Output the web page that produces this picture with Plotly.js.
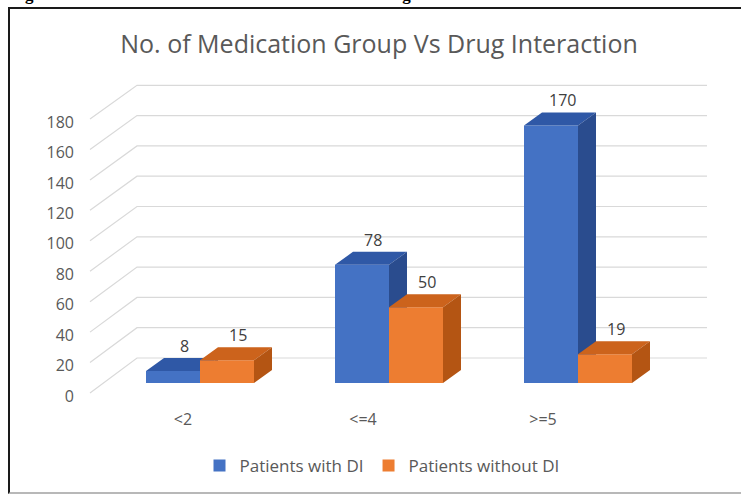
<!DOCTYPE html>
<html>
<head>
<meta charset="utf-8">
<script src="https://cdn.plot.ly/plotly-3.0.1.min.js"></script>
<style>
  html, body { margin: 0; padding: 0; background: #ffffff; }
  #wrap { position: relative; width: 741px; height: 495px; overflow: hidden; background: #ffffff; }
  #chart { position: absolute; left: 0; top: 0; width: 741px; height: 495px; }
  #frame { position: absolute; left: 8px; top: 7px; right: -4px; bottom: 1px;
           border-left: 2px solid #1a1a1a; border-top: 2px solid #1a1a1a; border-bottom: 2px solid #b8b8b8;
           pointer-events: none; }
  #caption { position: absolute; left: 10px; top: -14px; white-space: nowrap;
             font: bold 17px "Liberation Serif", "DejaVu Serif", serif; color: #000; line-height: 17px; }
</style>
</head>
<body>
<div id="wrap">
  <div id="chart"></div>
  <div id="frame"></div>
  <div id="caption">Figure 1: Distribution of number of medication vs drug interaction</div>
</div>
<script>
// ---- data ----
const categories = ['<2', '<=4', '>=5'];
const seriesNames = ['Patients with DI', 'Patients without DI'];
const withDI = [8, 78, 170];
const withoutDI = [15, 50, 19];
const yTickVals = [0, 20, 40, 60, 80, 100, 120, 140, 160, 180];

// ---- geometry of the pseudo-3D box (pixels) ----
const W = 741, H = 495;
const PL = 85, PR = 715, PT = 75, PB = 405;          // plot area
const X0 = 200, XS = 189;                             // bar plane: px of category 0, px per category
const Y0 = 383, YS = 1.515;                           // bar plane: px of value 0, px per unit
const LX0 = 183, LXS = 180;                           // front (label) plane, x
const LY0 = 396, LYS = 1.522;                         // front (label) plane, y
const WALL_Y0 = 358, WALL_X0 = 137, WALL_X1 = 707;    // back wall
const GRID_FX = 90;                                   // front end of the floor-to-wall diagonals
const BAR_W = 54, DEPTH_X = 18, DEPTH_Y = 13;         // bar face width and depth offset

const colors = {
  blue:   { front: '#4472C4', top: '#2F58A6', side: '#2A4C8E' },
  orange: { front: '#ED7D31', top: '#CC631C', side: '#B45513' }
};
const textGrey = '#595959';
const font = '"Open Sans", Lato, sans-serif';

// pixel -> data helpers: bar plane and front (label) plane
const cx = px => (px - X0) / XS;
const cy = py => (Y0 - py) / YS;
const lx = px => (px - LX0) / LXS;
const ly = py => (LY0 - py) / LYS;

const xRange = [cx(PL), cx(PR)];
const yRange = [cy(PB), cy(PT)];
const xLabRange = [lx(PL), lx(PR)];
const yLabRange = [ly(PB), ly(PT)];

const bw = BAR_W / XS, ddx = DEPTH_X / XS, ddv = DEPTH_Y / YS;
const catIdx = categories.map((_, i) => i);

// ---- grid: diagonal from the front edge up to the back wall, then along the wall ----
const gx = [], gy = [];
yTickVals.forEach(v => {
  const wallY = WALL_Y0 - YS * v;
  gx.push(lx(GRID_FX), lx(WALL_X0), lx(WALL_X1), null);
  gy.push(v + 3 / LYS, ly(wallY), ly(wallY), null);
});

const traces = [{
  type: 'scatter', mode: 'lines', x: gx, y: gy, xaxis: 'x', yaxis: 'y',
  line: { color: '#D9D9D9', width: 1.2 }, hoverinfo: 'skip', showlegend: false
}];

// ---- bars: front face as a bar, top and side faces as filled polygons ----
function addSeries(values, name, col, offset, xa, ya) {
  traces.push({
    type: 'bar', name: name, x: catIdx, y: values, offset: offset, width: bw,
    marker: { color: col.front, line: { width: 0 } }, xaxis: xa, yaxis: ya, hoverinfo: 'y'
  });
  const tx = [], ty = [], sx = [], sy = [];
  values.forEach((v, i) => {
    const x0 = i + offset, x1 = x0 + bw;
    tx.push(x0, x1, x1 + ddx, x0 + ddx, x0, null);
    ty.push(v, v, v + ddv, v + ddv, v, null);
    sx.push(x1, x1 + ddx, x1 + ddx, x1, x1, null);
    sy.push(0, ddv, v + ddv, v, 0, null);
  });
  [[tx, ty, col.top], [sx, sy, col.side]].forEach(([px, py, c]) => {
    traces.push({
      type: 'scatter', mode: 'lines', x: px, y: py, fill: 'toself', fillcolor: c,
      line: { width: 0, color: c }, xaxis: xa, yaxis: ya, hoverinfo: 'skip', showlegend: false
    });
  });
}
addSeries(withDI, seriesNames[0], colors.blue, -bw, 'x3', 'y3');
addSeries(withoutDI, seriesNames[1], colors.orange, 0, 'x4', 'y4');

// ---- value labels ----
const annotations = [];
[[withDI, -bw / 2, 'x3', 'y3'], [withoutDI, bw / 2, 'x4', 'y4']].forEach(([vals, off, xa, ya]) => {
  vals.forEach((v, i) => annotations.push({
    x: i + off, y: v, xref: xa, yref: ya, text: String(v), showarrow: false,
    xshift: 11, yshift: 25, yanchor: 'middle',
    font: { family: font, size: 16, color: '#404040' }
  }));
});

const hidden = { visible: false, fixedrange: true };
const layout = {
  width: W, height: H,
  margin: { l: PL, r: W - PR, t: PT, b: H - PB, pad: 0 },
  paper_bgcolor: '#ffffff', plot_bgcolor: 'rgba(0,0,0,0)',
  font: { family: font, color: textGrey },
  title: {
    text: 'No. of Medication Group Vs Drug Interaction',
    x: 379 / W, xref: 'container', xanchor: 'center',
    y: 1 - 44 / H, yref: 'container', yanchor: 'middle',
    font: { family: font, size: 25, color: textGrey }
  },
  // front plane: category and value labels
  xaxis: {
    range: xLabRange, tickvals: catIdx, ticktext: categories, ticks: '',
    showgrid: false, zeroline: false, showline: false, fixedrange: true,
    ticklabelstandoff: 3, tickfont: { family: font, size: 16, color: textGrey }
  },
  yaxis: {
    range: yLabRange, tickvals: yTickVals, ticks: '',
    showgrid: false, zeroline: false, showline: false, fixedrange: true,
    ticklabelstandoff: 10, tickfont: { family: font, size: 16, color: textGrey }
  },
  // bar plane, one overlay per series so the nearer series is painted last
  xaxis3: Object.assign({ overlaying: 'x', anchor: 'y3', range: xRange }, hidden),
  yaxis3: Object.assign({ overlaying: 'y', anchor: 'x3', range: yRange }, hidden),
  xaxis4: Object.assign({ overlaying: 'x', anchor: 'y4', range: xRange }, hidden),
  yaxis4: Object.assign({ overlaying: 'y', anchor: 'x4', range: yRange }, hidden),
  showlegend: true,
  legend: {
    orientation: 'h', xref: 'container', yref: 'container',
    x: 382 / W, xanchor: 'center', y: 1 - 466 / H, yanchor: 'middle',
    font: { family: font, size: 17, color: textGrey }, itemwidth: 30
  },
  annotations: annotations
};

Plotly.newPlot('chart', traces, layout, { displayModeBar: false, staticPlot: true });
</script>
</body>
</html>
